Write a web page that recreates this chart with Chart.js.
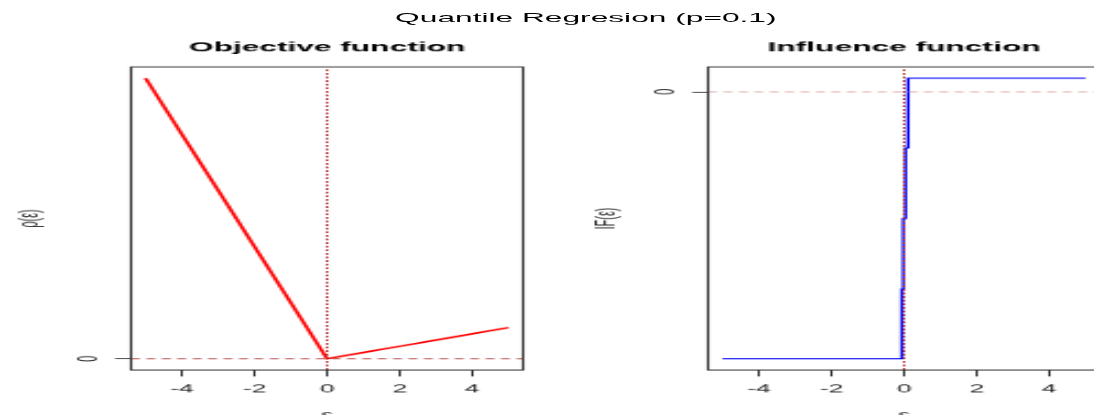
<!DOCTYPE html>
<html><head><meta charset="utf-8">
<script src="https://cdn.jsdelivr.net/npm/chart.js@4"></script>
<style>
html,body{margin:0;padding:0;background:#fff;overflow:hidden;width:1094px;height:415px;}
#fig{position:absolute;left:0;top:0;width:524px;height:480px;transform-origin:0 0;transform:scale(2.2023,0.9);}
#fig canvas{position:absolute;top:0;}
#c1{left:0px}
#c2{left:262px}
#main{position:absolute;left:0;width:532px;top:10.8px;text-align:center;font-family:"Liberation Sans",Arial,sans-serif;font-size:14.4px;line-height:17.28px;color:#000;white-space:nowrap;}
</style></head><body>
<div id="fig">
<div id="main"></div>
<canvas id="c1" width="262" height="480"></canvas>
<canvas id="c2" width="262" height="480"></canvas>
</div>
<script>
// ---- data ----
const mainTitle = 'Quantile Regresion (p=0.1)';
const panelTitles = ['Objective function', 'Influence function'];
const yTitles = ['ρ(ε)', 'IF(ε)'];
const xTitle = 'ε';
const xTicks = [-4, -2, 0, 2, 4];
const yTicks = [0];
// objective function (red)
const objX = [-5, -4, -3, -2, -1, 0, 1, 2, 3, 4, 5];
const objY = [4.5, 3.6, 2.7, 1.8, 0.9, 0, 0.1, 0.2, 0.3, 0.4, 0.5];
// influence function (blue, step-like)
const infX = [-5, -0.06, -0.06, -0.02, -0.02, 0.04, 0.04, 0.11, 0.11, 5];
const infY = [-9.8, -9.8, -7.24, -7.24, -4.65, -4.65, -2.06, -2.06, 0.5, 0.5];

document.getElementById('main').textContent = mainTitle;

const FAMILY = '"Liberation Sans", Arial, Helvetica, sans-serif';

function padRange(arr) {
  const lo = Math.min(...arr), hi = Math.max(...arr), d = (hi - lo) * 0.04;
  return [lo - d, hi + d];
}

const framePlugin = {
  id: 'frame',
  afterDraw(chart, args, opts) {
    const {ctx, chartArea: a} = chart;
    ctx.save();
    ctx.strokeStyle = '#333';
    ctx.lineWidth = 1.1;
    ctx.strokeRect(a.left, a.top, a.right - a.left, a.bottom - a.top);
    ctx.fillStyle = '#000';
    ctx.font = 'bold 14.4px ' + FAMILY;
    ctx.textAlign = 'center';
    ctx.textBaseline = 'middle';
    ctx.fillText(opts.title, (a.left + a.right) / 2, 53);
    ctx.restore();
  }
};

function makeChart(id, xs, ys, color, lw, idx, hColor) {
  const xr = padRange(xs), yr = padRange(ys);
  const pts = xs.map((x, i) => ({x: x, y: ys[i]}));
  const tickFont = {size: 12, family: FAMILY};
  return new Chart(document.getElementById(id), {
    type: 'scatter',
    data: {
      datasets: [
        {data: [{x: 0, y: yr[0]}, {x: 0, y: yr[1]}], showLine: true, borderColor: '#b03030', borderWidth: 1.1, borderDash: [2, 2], pointRadius: 0},
        {data: [{x: xr[0], y: 0}, {x: xr[1], y: 0}], showLine: true, borderColor: hColor, borderWidth: 1.1, borderDash: [4, 3], pointRadius: 0},
        {data: pts, showLine: true, borderColor: color, borderWidth: lw, pointRadius: 0, tension: 0}
      ]
    },
    options: {
      responsive: false,
      animation: false,
      devicePixelRatio: 1,
      events: [],
      layout: {padding: {left: 0, right: 24.5, top: 74.4, bottom: 0}},
      plugins: {legend: {display: false}, tooltip: {enabled: false}, frame: {title: panelTitles[idx]}},
      scales: {
        x: {
          type: 'linear', min: xr[0], max: xr[1],
          afterBuildTicks: s => { s.ticks = xTicks.map(v => ({value: v})); },
          afterFit: s => { s.height = 68.9; },
          grid: {drawOnChartArea: false, drawTicks: true, tickLength: 7.2, tickColor: '#333', tickWidth: 1},
          border: {display: false},
          ticks: {padding: 6.8, color: '#222', font: tickFont, minRotation: 0, maxRotation: 0, autoSkip: false, callback: v => String(v)},
          title: {display: true, text: xTitle, color: '#222', font: tickFont, padding: {top: 0, bottom: 10.8}}
        },
        y: {
          type: 'linear', min: yr[0], max: yr[1],
          afterBuildTicks: s => { s.ticks = yTicks.map(v => ({value: v})); },
          afterFit: s => { s.width = 59.5; },
          grid: {drawOnChartArea: false, drawTicks: true, tickLength: 7.2, tickColor: '#333', tickWidth: 1},
          border: {display: false},
          ticks: {padding: 7.8, color: '#222', font: tickFont, minRotation: 90, maxRotation: 90, crossAlign: 'center', autoSkip: false, callback: v => String(v)},
          title: {display: true, text: yTitles[idx], color: '#222', font: tickFont, padding: {top: 6.9, bottom: 0}}
        }
      }
    },
    plugins: [framePlugin]
  });
}

makeChart('c1', objX, objY, '#ff0000', 1.8, 0, '#c06060');
makeChart('c2', infX, infY, '#0000ff', 1.4, 1, '#d9a0a0');
</script>
</body></html>
